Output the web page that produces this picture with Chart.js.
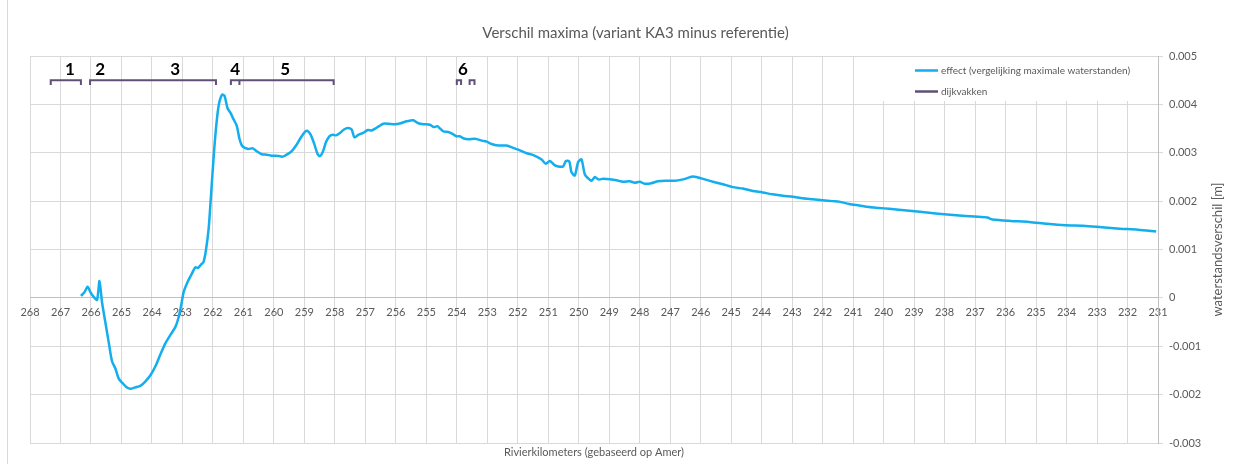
<!DOCTYPE html>
<html>
<head>
<meta charset="utf-8">
<script src="https://cdn.jsdelivr.net/npm/chart.js@4.4.0/dist/chart.umd.min.js"></script>
<style>
html, body { margin: 0; padding: 0; background: #fff; }
#wrap { width: 1241px; height: 464px; }
</style>
</head>
<body>
<div id="wrap"><canvas id="verschilChart" width="1241" height="464"></canvas></div>
<script>
// rivierkilometers and effect (variant KA3 minus referentie)
var effectKm = [266.33, 266.22, 266.11, 266.02, 265.91, 265.80, 265.72, 265.64, 265.53, 265.42,
  265.31, 265.20, 265.09, 264.98, 264.84, 264.71, 264.55, 264.38, 264.22, 264.05,
  263.89, 263.73, 263.56, 263.40, 263.23, 263.13, 263.04, 262.96, 262.83, 262.69,
  262.58, 262.49, 262.39, 262.31, 262.23, 262.14, 262.07, 261.98, 261.90, 261.81,
  261.70, 261.62, 261.52, 261.41, 261.33, 261.22, 261.13, 261.05, 260.95, 260.84,
  260.69, 260.56, 260.40, 260.23, 260.07, 259.91, 259.71, 259.58, 259.42, 259.25,
  259.11, 258.98, 258.90, 258.79, 258.68, 258.57, 258.49, 258.40, 258.29, 258.18,
  258.07, 257.96, 257.83, 257.70, 257.58, 257.45, 257.36, 257.23, 257.07, 256.92,
  256.79, 256.68, 256.55, 256.41, 256.25, 256.03, 255.84, 255.64, 255.43, 255.26,
  255.10, 254.88, 254.75, 254.64, 254.55, 254.44, 254.28, 254.14, 254.01, 253.90,
  253.79, 253.62, 253.40, 253.18, 253.02, 252.86, 252.64, 252.37, 252.15, 251.93,
  251.71, 251.49, 251.22, 251.08, 250.95, 250.78, 250.62, 250.51, 250.42, 250.31,
  250.24, 250.13, 250.02, 249.91, 249.80, 249.69, 249.58, 249.47, 249.36, 249.20,
  248.98, 248.76, 248.55, 248.33, 248.16, 248.00, 247.84, 247.62, 247.40, 247.13,
  246.86, 246.58, 246.42, 246.26, 246.09, 245.87, 245.60, 245.27, 244.95, 244.62,
  244.29, 243.97, 243.64, 243.31, 242.98, 242.66, 242.33, 242.00, 241.68, 241.46,
  241.13, 240.80, 240.48, 240.15, 239.82, 239.50, 238.81, 238.21, 237.62, 237.02,
  236.60, 236.42, 235.83, 235.23, 234.64, 234.04, 233.45, 232.85, 232.25, 231.66,
  231.06];
var effectVal = [0.00004, 0.00011, 0.00023, 0.00012, 0.00002, -0.00004, 0.00035, -0.00008, -0.0005, -0.00091,
  -0.00131, -0.00146, -0.00167, -0.00175, -0.00184, -0.00188, -0.00185, -0.00182, -0.00173, -0.0016,
  -0.00142, -0.00118, -0.00094, -0.00077, -0.0006, -0.00041, -0.00015, 0.00012, 0.00033, 0.0005,
  0.00063, 0.00062, 0.00069, 0.00074, 0.00098, 0.00143, 0.00205, 0.00288, 0.0035, 0.00398,
  0.0042, 0.00418, 0.00392, 0.00381, 0.0037, 0.00356, 0.00329, 0.00315, 0.0031, 0.00308,
  0.00309, 0.00303, 0.00297, 0.00296, 0.00294, 0.00294, 0.00292, 0.00296, 0.00303, 0.00317,
  0.00332, 0.00343, 0.00345, 0.00337, 0.00319, 0.00298, 0.00293, 0.00301, 0.00322, 0.00334,
  0.00337, 0.00336, 0.00341, 0.00348, 0.00351, 0.00348, 0.00332, 0.00337, 0.00341, 0.00347,
  0.00346, 0.0035, 0.00355, 0.0036, 0.0036, 0.00359, 0.00361, 0.00365, 0.00367, 0.00361,
  0.00359, 0.00358, 0.00353, 0.00355, 0.0035, 0.00344, 0.00343, 0.00339, 0.00334, 0.00334,
  0.0033, 0.00328, 0.00329, 0.00325, 0.00323, 0.00318, 0.00315, 0.00315, 0.0031, 0.00305,
  0.00299, 0.00295, 0.00286, 0.00277, 0.00283, 0.00274, 0.00271, 0.00272, 0.00283, 0.00282,
  0.0026, 0.00253, 0.00281, 0.00286, 0.00255, 0.00247, 0.00242, 0.0025, 0.00245, 0.00246,
  0.00245, 0.00243, 0.0024, 0.00241, 0.00238, 0.0024, 0.00236, 0.00237, 0.00241, 0.00242,
  0.00242, 0.00245, 0.00248, 0.00251, 0.00249, 0.00245, 0.0024, 0.00235, 0.00229, 0.00226,
  0.00221, 0.00218, 0.00214, 0.00211, 0.00209, 0.00206, 0.00204, 0.00202, 0.002, 0.00199,
  0.00194, 0.00191, 0.00188, 0.00186, 0.00184, 0.00182, 0.00178, 0.00174, 0.00171, 0.00168,
  0.00166, 0.00162, 0.00159, 0.00157, 0.00153, 0.0015, 0.00149, 0.00146, 0.00143, 0.00141,
  0.00137];

// dijkvakken (brackets), begin and end km
var vakStart = [267.32, 266.03, 261.41, 261.13, 254.00, 253.58];
var vakEnd = [266.33, 261.90, 261.13, 258.04, 253.86, 253.42];
var vakTop = 0.0045;
var vakFoot = 0.0044;

// numbers above the dijkvakken
var vakLabels = ['1', '2', '3', '4', '5', '6'];
var vakLabelKm = [266.69, 265.70, 263.24, 261.27, 259.63, 253.80];
var vakLabelVal = 0.00473;

var seriesNames = ['effect (vergelijking maximale waterstanden)', 'dijkvakken'];
var blue = '#12aeee';
var purple = '#5e5076';
var grey = '#595959';
var gridColor = '#d9d9d9';

document.addEventListener('DOMContentLoaded', function() {
    handleChart();
});

function effectPoints(){
    var pts = [];
    for (var i = 0; i < effectKm.length; i++) {
        pts.push({x: effectKm[i], y: effectVal[i]});
    }
    return pts;
}

function vakPoints(){
    var pts = [];
    for (var i = 0; i < vakStart.length; i++) {
        pts.push({x: vakStart[i], y: vakFoot});
        pts.push({x: vakStart[i], y: vakTop});
        pts.push({x: vakEnd[i], y: vakTop});
        pts.push({x: vakEnd[i], y: vakFoot});
        pts.push({x: vakEnd[i], y: null});
    }
    return pts;
}

const extras = {
    id: 'extras',
    beforeDraw(chart){
        const ctx = chart.ctx;
        ctx.save();
        ctx.strokeStyle = gridColor;
        ctx.lineWidth = 1;
        ctx.beginPath();
        ctx.moveTo(7.5, 0);
        ctx.lineTo(7.5, chart.height);
        ctx.stroke();
        ctx.restore();
    },
    beforeDatasetsDraw(chart){
        // legend box, white, over the grid
        const ctx = chart.ctx;
        ctx.save();
        ctx.fillStyle = '#fff';
        ctx.fillRect(880, 57, 276, 44);
        const colors = [blue, purple];
        const ys = [70.5, 91.5];
        ctx.font = '10px Lato';
        ctx.textBaseline = 'middle';
        ctx.textAlign = 'left';
        for (let i = 0; i < 2; i++) {
            ctx.strokeStyle = colors[i];
            ctx.lineWidth = 2.5;
            ctx.beginPath();
            ctx.moveTo(915, ys[i]);
            ctx.lineTo(938, ys[i]);
            ctx.stroke();
            ctx.fillStyle = grey;
            ctx.fillText(seriesNames[i], 941, ys[i]);
        }
        ctx.restore();
    },
    afterDraw(chart){
        const ctx = chart.ctx;
        const xs = chart.scales.x;
        const ys = chart.scales.y;
        ctx.save();
        // section numbers
        ctx.font = 'bold 17px Lato';
        ctx.fillStyle = '#000';
        ctx.textAlign = 'center';
        ctx.textBaseline = 'middle';
        vakLabels.map(function(lbl, i){
            ctx.fillText(lbl, xs.getPixelForValue(vakLabelKm[i]), ys.getPixelForValue(vakLabelVal));
        });
        // y axis title, reading upwards
        const area = chart.chartArea;
        ctx.translate(1218, (area.top + area.bottom) / 2);
        ctx.rotate(-Math.PI / 2);
        ctx.font = '13px Lato';
        ctx.fillStyle = grey;
        ctx.fillText('waterstandsverschil [m]', 0, 0);
        ctx.restore();
    }
};

function handleChart(){
    const data = {
        datasets: [{
            label: seriesNames[0],
            data: effectPoints(),
            borderColor: blue,
            backgroundColor: blue,
            borderWidth: 2.5,
            pointRadius: 0,
            tension: 0.25
        },
        {
            label: seriesNames[1],
            data: vakPoints(),
            borderColor: purple,
            backgroundColor: purple,
            borderWidth: 2,
            pointRadius: 0,
            tension: 0,
            spanGaps: false
        }]
    };
    const config = {
        type: 'line',
        data: data,
        options: {
            responsive: false,
            animation: false,
            layout: { padding: { left: 30, right: 0, top: 0, bottom: 0 } },
            plugins: {
                legend: { display: false },
                tooltip: { enabled: false },
                title: {
                    display: true,
                    text: 'Verschil maxima (variant KA3 minus referentie)',
                    color: grey,
                    font: { family: 'Lato', size: 15, weight: 'normal' },
                    padding: { top: 24, bottom: 14 }
                }
            },
            scales: {
                x: {
                    type: 'linear',
                    position: { y: 0 },
                    min: 231,
                    max: 268,
                    reverse: true,
                    grid: { color: gridColor, drawTicks: false },
                    border: { color: '#bfbfbf' },
                    ticks: {
                        stepSize: 1,
                        autoSkip: false,
                        maxRotation: 0,
                        padding: 8,
                        color: grey,
                        font: { family: 'Lato', size: 11 },
                        callback: function(v){ return String(Math.round(v)); }
                    }
                },
                xTitle: {
                    type: 'linear',
                    position: 'bottom',
                    min: 231,
                    max: 268,
                    reverse: true,
                    grid: { display: false },
                    border: { display: false },
                    ticks: { display: false },
                    title: {
                        display: true,
                        text: 'Rivierkilometers (gebaseerd op Amer)',
                        color: grey,
                        font: { family: 'Lato', size: 11 },
                        padding: { top: 0, bottom: 5 }
                    },
                    afterFit: function(scale){ scale.height = 21; }
                },
                y: {
                    position: 'right',
                    min: -0.003,
                    max: 0.005,
                    grid: { color: gridColor, tickLength: 5 },
                    border: { color: '#bfbfbf' },
                    ticks: {
                        stepSize: 0.001,
                        padding: 6,
                        color: grey,
                        font: { family: 'Lato', size: 11 },
                        callback: function(v){ return Math.abs(v) < 1e-9 ? '0' : v.toFixed(3); }
                    },
                    afterFit: function(scale){ scale.width = 83; }
                }
            }
        },
        plugins: [extras]
    };

    new Chart(document.getElementById('verschilChart'), config);
}
</script>
</body>
</html>
